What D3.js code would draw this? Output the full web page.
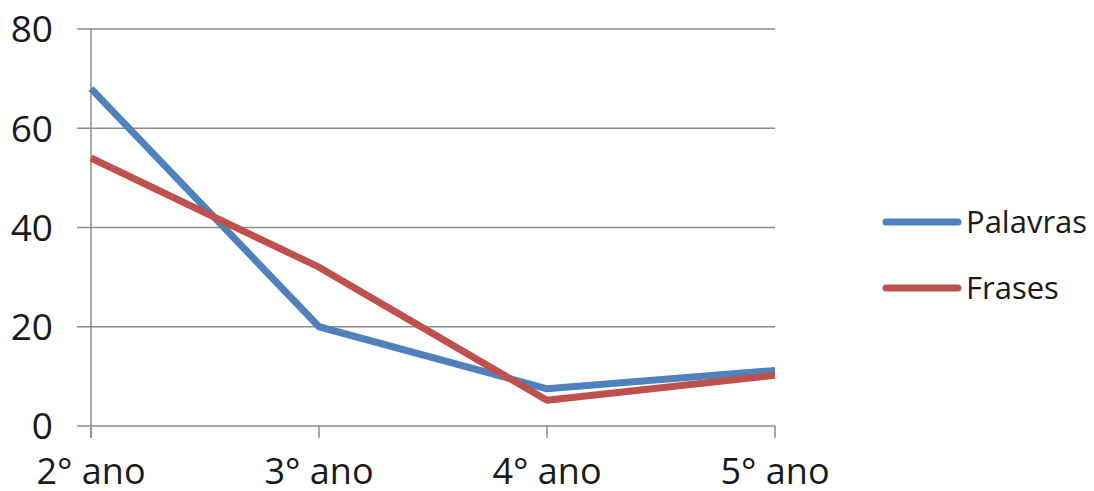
<!DOCTYPE html>
<html><head><meta charset="utf-8">
<script src="https://cdn.jsdelivr.net/npm/d3@7"></script>
<style>body{margin:0;background:#fff}svg{display:block}text{font-family:"Open Sans",sans-serif;fill:#1a1a1a}</style>
</head><body>
<svg id="c" width="1094" height="491"></svg>
<script>
const categories = ["2° ano", "3° ano", "4° ano", "5° ano"];
const palavras = [68, 20, 7.5, 11.2];
const frases = [54, 32, 5.2, 10.2];
const yTicks = [0, 20, 40, 60, 80];
const seriesNames = ["Palavras", "Frases"];
const seriesColors = ["#4F81BD", "#C0504D"];

const svg = d3.select("#c");
const x = d3.scalePoint().domain(categories).range([91, 775]);
const y = d3.scaleLinear().domain([0, 80]).range([426, 29]);

svg.append("g").selectAll("line").data(yTicks).join("line")
  .attr("x1", 77).attr("x2", 775)
  .attr("y1", d => y(d)).attr("y2", d => y(d))
  .attr("stroke", "#8c8c8c").attr("stroke-width", 1.5);
svg.append("line").attr("x1", 91).attr("x2", 91).attr("y1", y(80)).attr("y2", 438)
  .attr("stroke", "#8c8c8c").attr("stroke-width", 1.5);
svg.append("g").selectAll("line").data(categories).join("line")
  .attr("x1", d => x(d)).attr("x2", d => x(d)).attr("y1", y(0)).attr("y2", 438)
  .attr("stroke", "#8c8c8c").attr("stroke-width", 1.5);
svg.append("g").selectAll("text").data(yTicks).join("text")
  .attr("x", 53).attr("y", d => y(d)).attr("dy", "0.36em")
  .attr("text-anchor", "end").attr("font-size", 37).text(d => d);
svg.append("g").selectAll("text").data(categories).join("text")
  .attr("x", d => x(d)).attr("y", 484)
  .attr("text-anchor", "middle").attr("font-size", 36).text(d => d);

const line = d3.line().x((d, i) => x(categories[i])).y(d => y(d));
[palavras, frases].forEach((s, k) => {
  svg.append("path").datum(s).attr("d", line).attr("fill", "none")
    .attr("stroke", seriesColors[k]).attr("stroke-width", 7)
    .attr("stroke-linejoin", "round");
});

const legY = [222, 288];
seriesNames.forEach((n, k) => {
  svg.append("line").attr("x1", 886).attr("x2", 958).attr("y1", legY[k]).attr("y2", legY[k])
    .attr("stroke", seriesColors[k]).attr("stroke-width", 7).attr("stroke-linecap", "round");
  svg.append("text").attr("x", 966).attr("y", legY[k]).attr("dy", "0.36em")
    .attr("font-size", 31).text(n);
});
</script>
</body></html>
